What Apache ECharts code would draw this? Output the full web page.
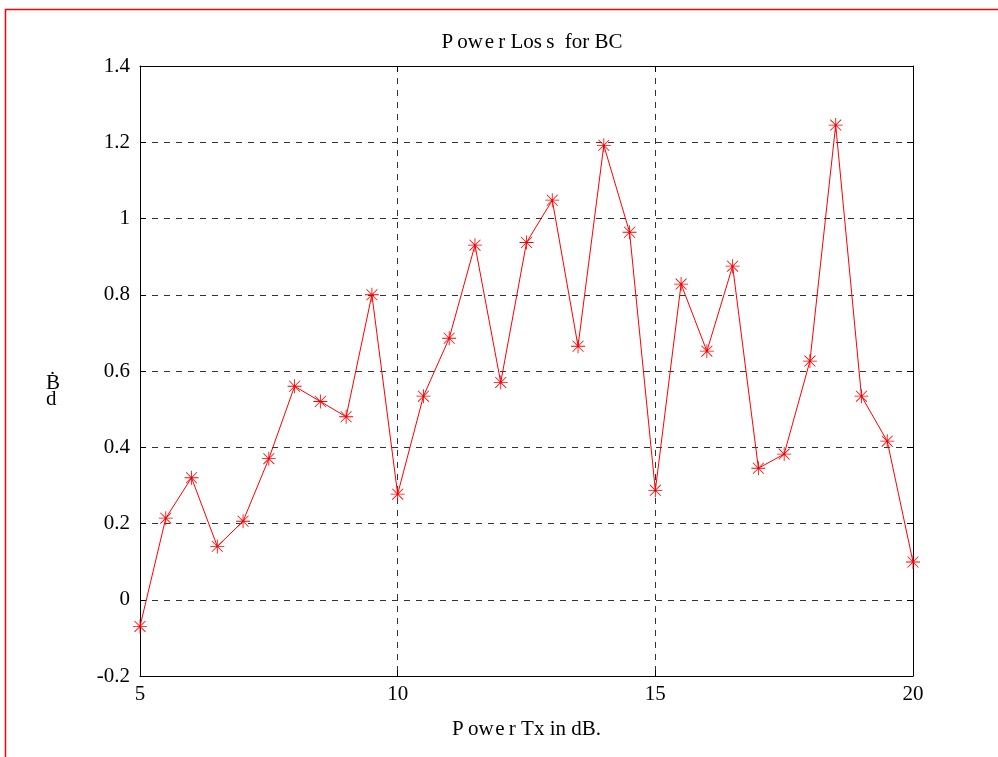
<!DOCTYPE html>
<html>
<head>
<meta charset="utf-8">
<script src="https://cdn.jsdelivr.net/npm/echarts@6/dist/echarts.min.js"></script>
<style>
  html, body { margin: 0; padding: 0; background: #fff; }
  #chart { width: 998px; height: 757px; }
</style>
</head>
<body>
<div id="chart"></div>
<script>
const txPower = [5, 5.5, 6, 6.5, 7, 7.5, 8, 8.5, 9, 9.5, 10, 10.5, 11, 11.5, 12, 12.5,
  13, 13.5, 14, 14.5, 15, 15.5, 16, 16.5, 17, 17.5, 18, 18.5, 19, 19.5, 20];
const powerLoss = [-0.07, 0.214, 0.32, 0.14, 0.206, 0.37, 0.56, 0.52, 0.48, 0.8, 0.277, 0.534,
  0.686, 0.93, 0.57, 0.937, 1.048, 0.665, 1.192, 0.964, 0.287, 0.828, 0.652, 0.875,
  0.345, 0.382, 0.626, 1.245, 0.534, 0.416, 0.099];

const font = "Liberation Serif";
const chart = echarts.init(document.getElementById("chart"));

// 8-armed asterisk marker like matlab's '*'
const star = "path://M0 9.4H20V10.6H0Z M9.4 0H10.6V20H9.4Z " +
  "M2.6 1.8L18.2 17.4L17.4 18.2L1.8 2.6Z M17.4 1.8L18.2 2.6L2.6 18.2L1.8 17.4Z";

const dashed = { show: true, lineStyle: { color: "#333", type: [6, 6], width: 1 } };
const axisLine = { show: true, onZero: false, lineStyle: { color: "#000", width: 1 } };
const tick = { show: true, inside: true, length: 6, lineStyle: { color: "#000" } };

const option = {
  animation: false,
  backgroundColor: "#fff",
  title: {
    text: "P\u2009ow\u200Ae\u2009r Los\u2009s  for BC",
    left: 527,
    top: 27,
    textAlign: "center",
    textStyle: { fontFamily: font, fontSize: 21, fontWeight: "normal", color: "#000" },
  },
  grid: { left: 140, right: 85, top: 66, bottom: 81 },
  xAxis: [
    {
      type: "value",
      min: 5,
      max: 20,
      interval: 5,
      name: "P\u2009ow\u200Ae\u2009r Tx in dB.",
      nameLocation: "middle",
      nameGap: 43,
      nameTextStyle: { fontFamily: font, fontSize: 21, color: "#000" },
      axisLine: axisLine,
      axisTick: tick,
      splitLine: dashed,
      axisLabel: { fontFamily: font, fontSize: 21, color: "#000", margin: 8 },
    },
    {
      type: "value",
      position: "top",
      min: 5,
      max: 20,
      interval: 5,
      axisLine: axisLine,
      axisTick: tick,
      splitLine: { show: false },
      axisLabel: { show: false },
    },
  ],
  yAxis: [
    {
      type: "value",
      min: -0.2,
      max: 1.4,
      interval: 0.2,
      axisLine: axisLine,
      axisTick: tick,
      splitLine: dashed,
      axisLabel: {
        fontFamily: font,
        fontSize: 21,
        color: "#000",
        margin: 10,
        formatter: (v) => String(Math.round(v * 10) / 10),
      },
    },
    {
      type: "value",
      position: "right",
      min: -0.2,
      max: 1.4,
      interval: 0.2,
      axisLine: axisLine,
      axisTick: tick,
      splitLine: { show: false },
      axisLabel: { show: false },
    },
  ],
  graphic: [
    {
      type: "text",
      left: 46,
      top: 373,
      style: { text: "Ḃ", font: "21px " + font, fill: "#000" },
    },
    {
      type: "text",
      left: 46,
      top: 389,
      style: { text: "d", font: "21px " + font, fill: "#000" },
    },
    {
      type: "rect",
      shape: { x: 5.5, y: 9.5, width: 1100, height: 900 },
      style: { fill: "none", stroke: "#ff0000", lineWidth: 1.5 },
      silent: true,
    },
  ],
  series: [
    {
      type: "line",
      data: txPower.map((x, i) => [x, powerLoss[i]]),
      symbol: star,
      symbolSize: 14,
      showAllSymbol: true,
      clip: false,
      itemStyle: { color: "#ff0000" },
      lineStyle: { color: "#ff0000", width: 1 },
    },
  ],
};

chart.setOption(option);
</script>
</body>
</html>
